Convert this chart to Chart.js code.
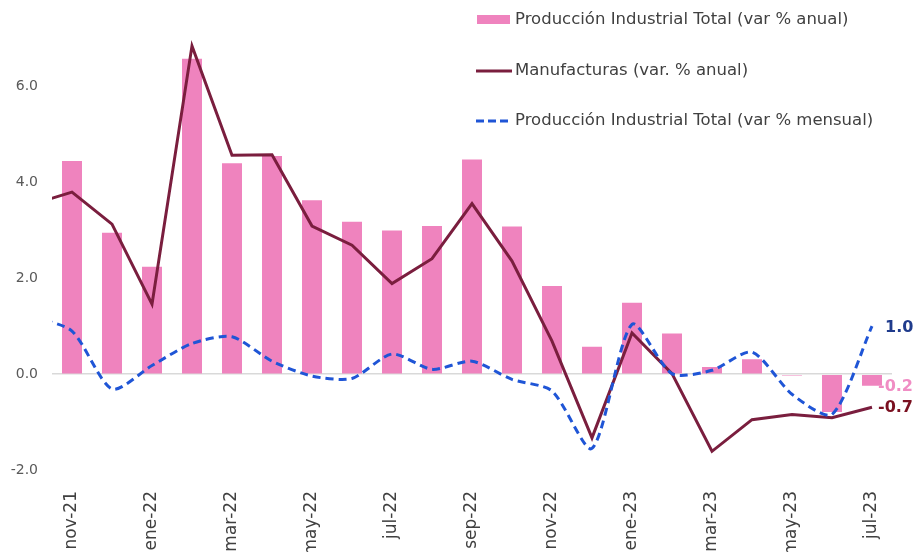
<!DOCTYPE html>
<html lang="es">
<head>
<meta charset="utf-8">
<title>Producción industrial</title>
<script src="https://cdn.jsdelivr.net/npm/chart.js@4.4.1/dist/chart.umd.min.js"></script>
<style>
  html, body { margin: 0; padding: 0; background: #fff; }
  #wrap { position: relative; width: 924px; height: 552px; }
</style>
</head>
<body>
<div id="wrap"><canvas id="grafico"></canvas></div>
<script>
// oct-21 solo sirve para que las líneas entren desde el borde izquierdo
const meses = ["oct-21", "nov-21", "dic-21", "ene-22", "feb-22", "mar-22", "abr-22", "may-22",
	"jun-22", "jul-22", "ago-22", "sep-22", "oct-22", "nov-22", "dic-22", "ene-23",
	"feb-23", "mar-23", "abr-23", "may-23", "jun-23", "jul-23"];
const prodAnual = [null, 4.45, 2.95, 2.24, 6.58, 4.40, 4.55, 3.63, 3.18, 3.00, 3.09,
	4.48, 3.08, 1.84, 0.57, 1.49, 0.85, 0.15, 0.31, -0.03, -0.79, -0.24];
const manufAnual = [3.54, 3.80, 3.13, 1.46, 6.85, 4.57, 4.58, 3.09, 2.69, 1.89, 2.41,
	3.56, 2.36, 0.69, -1.33, 0.86, 0.01, -1.61, -0.95, -0.84, -0.91, -0.69];
const prodMensual = [1.20, 0.90, -0.31, 0.18, 0.64, 0.78, 0.27, -0.04, -0.09, 0.42, 0.10,
	0.27, -0.11, -0.35, -1.55, 1.04, 0.01, 0.08, 0.46, -0.42, -0.84, 1.00];
const etiquetasX = ["nov-21", "ene-22", "mar-22", "may-22", "jul-22", "sep-22",
	"nov-22", "ene-23", "mar-23", "may-23", "jul-23"];
const ticksY = [-2, 0, 2, 4, 6];

const nombres = [
	"Producción Industrial Total (var % anual)",
	"Manufacturas (var. % anual)",
	"Producción Industrial Total (var % mensual)",
];
const colRosa = "#ef83be";
const colGranate = "#7a1e3e";
const colAzul = "#1f55d6";
const fuente = '"DejaVu Sans", sans-serif';

// posicion en el eje x: nov-21 = 0
const puntos = (serie) =>
	serie.map((v, i) => ({ x: i - 1, y: v })).filter((p) => p.y !== null);

// Leyenda a la derecha, arriba (como en Excel)
const leyendaPlugin = {
	id: "leyenda",
	afterDraw(chart) {
		const ctx = chart.ctx;
		ctx.save();
		ctx.font = "16.5px " + fuente;
		ctx.textBaseline = "middle";

		ctx.fillStyle = colRosa;
		ctx.fillRect(477, 15, 33, 9);

		ctx.strokeStyle = colGranate;
		ctx.lineWidth = 3;
		ctx.beginPath();
		ctx.moveTo(476, 71);
		ctx.lineTo(512, 71);
		ctx.stroke();

		ctx.strokeStyle = colAzul;
		ctx.setLineDash([8, 4]);
		ctx.beginPath();
		ctx.moveTo(476, 121);
		ctx.lineTo(512, 121);
		ctx.stroke();
		ctx.setLineDash([]);

		ctx.fillStyle = "#404040";
		ctx.fillText(nombres[0], 515, 20);
		ctx.fillText(nombres[1], 515, 71);
		ctx.fillText(nombres[2], 515, 121);
		ctx.restore();
	},
};

// Etiquetas del ultimo dato
const ultimosPlugin = {
	id: "ultimos",
	afterDatasetsDraw(chart) {
		const ctx = chart.ctx;
		const xs = chart.scales.x;
		const ys = chart.scales.y;
		const n = meses.length - 1;
		const x = xs.getPixelForValue(n - 1);
		ctx.save();
		ctx.font = "bold 16px " + fuente;
		ctx.textBaseline = "middle";
		ctx.textAlign = "left";

		ctx.fillStyle = "#1f3b8c";
		ctx.fillText(prodMensual[n].toFixed(1), x + 13, ys.getPixelForValue(prodMensual[n]) + 2);

		ctx.fillStyle = "#f08dc4";
		ctx.fillText(prodAnual[n].toFixed(1), x + 6, ys.getPixelForValue(prodAnual[n]) + 1);

		ctx.fillStyle = "#7a1020";
		ctx.fillText(manufAnual[n].toFixed(1), x + 6, ys.getPixelForValue(manufAnual[n]) + 1);
		ctx.restore();
	},
};

new Chart(document.getElementById("grafico"), {
	type: "bar",
	data: {
		datasets: [
			{
				type: "line",
				label: nombres[2],
				data: puntos(prodMensual),
				borderColor: colAzul,
				borderWidth: 3,
				borderDash: [8, 5],
				tension: 0.25,
				pointRadius: 0,
				clip: 0,
				order: 1,
			},
			{
				type: "line",
				label: nombres[1],
				data: puntos(manufAnual),
				borderColor: colGranate,
				borderWidth: 3,
				tension: 0,
				pointRadius: 0,
				clip: 0,
				order: 2,
			},
			{
				type: "bar",
				label: nombres[0],
				data: puntos(prodAnual),
				backgroundColor: colRosa,
				barPercentage: 0.5,
				categoryPercentage: 1,
				order: 3,
			},
		],
	},
	options: {
		responsive: true,
		maintainAspectRatio: false,
		animation: false,
		layout: { padding: { top: 0, right: 32, bottom: 0, left: 0 } },
		plugins: {
			legend: { display: false },
			tooltip: { enabled: false },
		},
		scales: {
			x: {
				type: "linear",
				min: -0.5,
				max: 20.5,
				offset: false,
				grid: { display: false, offset: false },
				border: { display: false },
				afterBuildTicks: (s) => {
					s.ticks = etiquetasX.map((m) => ({ value: meses.indexOf(m) - 1 }));
				},
				afterFit: (s) => {
					s.height = 82;
				},
				ticks: {
					autoSkip: false,
					minRotation: 90,
					maxRotation: 90,
					padding: 13,
					color: "#404040",
					font: { family: fuente, size: 17 },
					callback: (v) => meses[v + 1],
				},
			},
			y: {
				min: -2,
				max: 7.34,
				grid: {
					color: (c) => (c.tick && c.tick.value === 0 ? "#d9d9d9" : "rgba(0,0,0,0)"),
					lineWidth: 1.5,
					drawTicks: false,
				},
				border: { display: false },
				afterBuildTicks: (s) => {
					s.ticks = ticksY.map((v) => ({ value: v }));
				},
				afterFit: (s) => {
					s.width = 52;
				},
				ticks: {
					padding: 14,
					color: "#595959",
					font: { family: fuente, size: 14 },
					callback: (v) => v.toFixed(1),
				},
			},
		},
	},
	plugins: [leyendaPlugin, ultimosPlugin],
});
</script>
</body>
</html>
